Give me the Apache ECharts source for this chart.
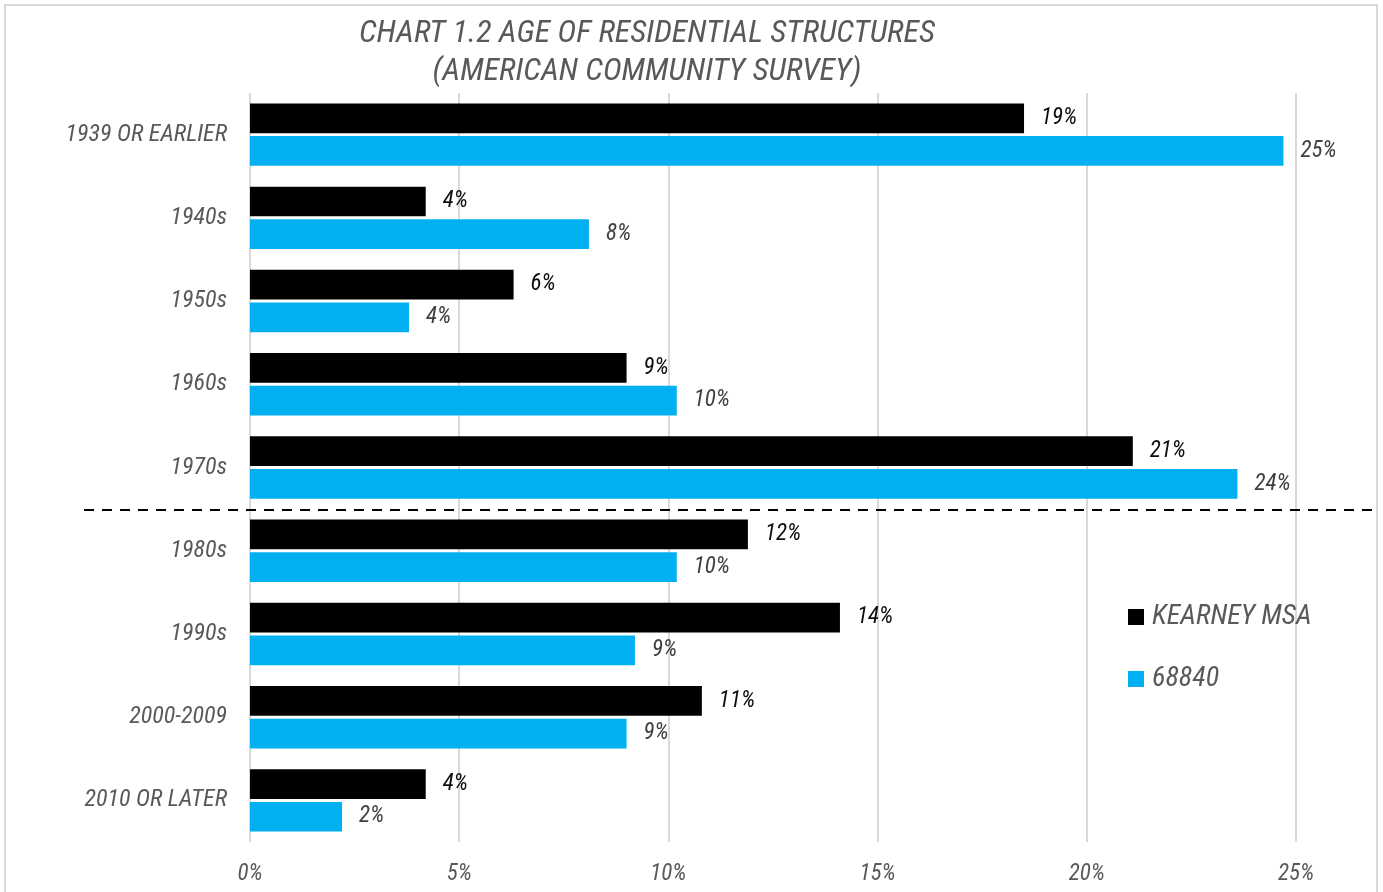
<!DOCTYPE html>
<html>
<head>
<meta charset="utf-8">
<script src="https://cdn.jsdelivr.net/npm/echarts@6/dist/echarts.min.js"></script>
<style>
  html, body { margin: 0; padding: 0; background: #fff; }
  #chart { width: 1383px; height: 892px; }
</style>
</head>
<body>
<div id="chart"></div>
<script>
// Age of residential structures, share of housing units by decade built
const categories = ['1939 OR EARLIER', '1940s', '1950s', '1960s', '1970s', '1980s', '1990s', '2000-2009', '2010 OR LATER'];
const kearneyMsa = [18.5, 4.2, 6.3, 9.0, 21.1, 11.9, 14.1, 10.8, 4.2];
const zip68840 = [24.7, 8.1, 3.8, 10.2, 23.6, 10.2, 9.2, 9.0, 2.2];
const xTicks = [0, 5, 10, 15, 20, 25];
const seriesNames = ['KEARNEY MSA', '68840'];

const FONT = '"Roboto Condensed", "DejaVu Sans Condensed", sans-serif';
const GREY = '#595959';

const chart = echarts.init(document.getElementById('chart'), null, { renderer: 'canvas' });

const pctLabel = (p) => Math.round(p.value) + '%';

chart.setOption({
  animation: false,
  backgroundColor: '#fff',
  title: {
    text: 'CHART 1.2 AGE OF RESIDENTIAL STRUCTURES\n(AMERICAN COMMUNITY SURVEY)',
    left: 647,
    top: 15,
    padding: 0,
    textAlign: 'center',
    textStyle: {
      fontFamily: FONT, fontStyle: 'italic', fontWeight: 'normal',
      fontSize: 32, lineHeight: 38, color: GREY
    }
  },
  legend: {
    orient: 'vertical',
    left: 1128,
    top: 603,
    padding: 0,
    itemWidth: 16,
    itemHeight: 16,
    itemGap: 34,
    icon: 'rect',
    textStyle: { fontFamily: FONT, fontStyle: 'italic', fontSize: 28, color: GREY, padding: [0, 0, 0, 3] },
    data: seriesNames
  },
  grid: { left: 250, right: 87, top: 93, bottom: 50, containLabel: false },
  xAxis: {
    type: 'value',
    min: xTicks[0],
    max: xTicks[xTicks.length - 1],
    interval: 5,
    axisLine: { show: false },
    axisTick: { show: false },
    splitLine: { show: true, lineStyle: { color: '#d9d9d9', width: 2 } },
    axisLabel: {
      margin: 21,
      fontFamily: FONT, fontStyle: 'italic', fontSize: 23, color: GREY,
      formatter: (v) => v + '%'
    }
  },
  yAxis: {
    type: 'category',
    data: categories,
    inverse: true,
    axisLine: { show: false },
    axisTick: { show: false },
    axisLabel: {
      margin: 23,
      fontFamily: FONT, fontStyle: 'italic', fontSize: 24, color: GREY
    }
  },
  series: [
    {
      name: seriesNames[0],
      type: 'bar',
      data: kearneyMsa,
      barCategoryGap: '25%',
      barGap: '10%',
      itemStyle: { color: '#000000' },
      label: {
        show: true, position: 'right', distance: 17, formatter: pctLabel,
        fontFamily: FONT, fontStyle: 'italic', fontSize: 23, color: '#0d0d0d',
        padding: [3, 0, 0, 0]
      }
    },
    {
      name: seriesNames[1],
      type: 'bar',
      data: zip68840,
      barCategoryGap: '25%',
      barGap: '10%',
      itemStyle: { color: '#00B0F0' },
      label: {
        show: true, position: 'right', distance: 17, formatter: pctLabel,
        fontFamily: FONT, fontStyle: 'italic', fontSize: 23, color: '#404040',
        padding: [3, 0, 0, 0]
      }
    }
  ]
});

// Dashed divider between the 1970s and 1980s bands, placed from the category axis
function drawDivider() {
  const yA = chart.convertToPixel({ yAxisIndex: 0 }, categories[4]);
  const yB = chart.convertToPixel({ yAxisIndex: 0 }, categories[5]);
  const y = Math.round((yA + yB) / 2) + 1;
  chart.setOption({
    graphic: [
      {
        type: 'rect', id: 'frame', silent: true,
        shape: { x: 5, y: 5, width: 1372, height: 900 },
        style: { fill: 'none', stroke: '#d9d9d9', lineWidth: 2 }
      },
      {
        type: 'line', id: 'divider', silent: true, z: 10,
        shape: { x1: 84, y1: y, x2: 1376, y2: y },
        style: { stroke: '#000', lineWidth: 2, lineDash: [10, 8] }
      }
    ]
  });
}
drawDivider();
</script>
</body>
</html>
